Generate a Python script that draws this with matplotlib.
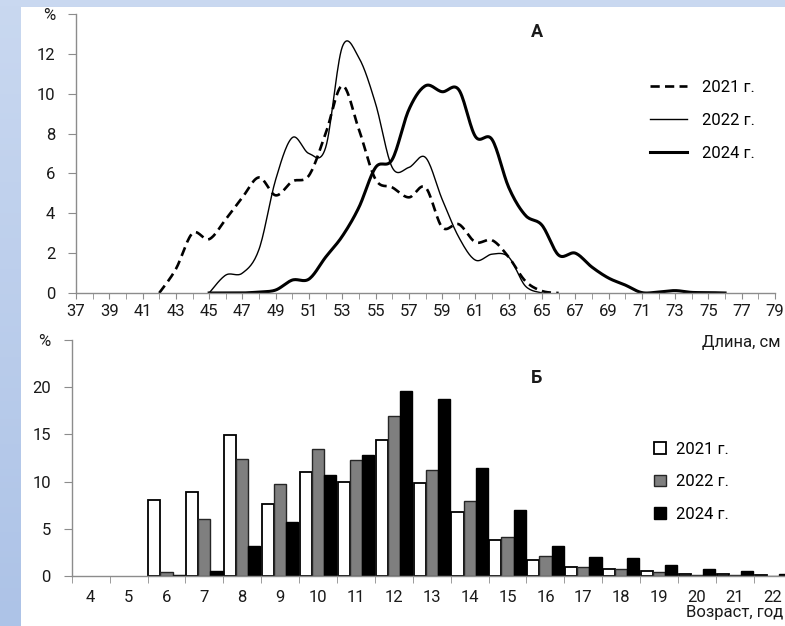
import matplotlib.pyplot as plt
import numpy as np
from matplotlib.patches import Rectangle

plt.rcParams['font.family'] = ['Roboto', 'DejaVu Sans']

# А: размерный состав (длина, см -> %)
len_2021 = np.arange(42, 67)
pct_len_2021 = [0, 1.2, 3.0, 2.7, 3.7, 4.8, 5.8, 4.9, 5.6, 5.9, 8.0, 10.4, 8.2,
                5.7, 5.3, 4.8, 5.3, 3.3, 3.45, 2.55, 2.65, 1.8, 0.6, 0.1, 0]
len_2022 = np.arange(45, 66)
pct_len_2022 = [0, 0.9, 1.0, 2.2, 5.7, 7.8, 7.0, 7.3, 12.35, 11.8, 9.5, 6.3,
                6.3, 6.8, 4.7, 2.8, 1.65, 1.95, 1.8, 0.35, 0]
len_2024 = np.arange(45, 77)
pct_len_2024 = [0, 0, 0, 0.05, 0.15, 0.65, 0.7, 1.8, 2.85, 4.3, 6.3, 6.7, 9.2,
                10.4, 10.1, 10.2, 7.85, 7.7, 5.3, 3.9, 3.4, 1.9, 2.0, 1.3, 0.75,
                0.4, 0.02, 0.05, 0.12, 0.03, 0.02, 0]

# Б: возрастной состав (возраст, год -> %)
ages = np.arange(4, 23)
pct_age_2021 = [0, 0, 8.1, 8.9, 14.9, 7.6, 11.0, 10.0, 14.4, 9.9, 6.8, 3.8,
                1.7, 0.95, 0.77, 0.53, 0.2, 0.2, 0.07]
pct_age_2022 = [0, 0, 0.46, 6.0, 12.4, 9.7, 13.5, 12.3, 16.9, 11.2, 7.9, 4.1,
                2.1, 1.0, 0.7, 0.46, 0.1, 0.1, 0.05]
pct_age_2024 = [0, 0, 0.07, 0.56, 3.2, 5.7, 10.7, 12.8, 19.6, 18.7, 11.4, 7.0,
                3.2, 2.0, 1.9, 1.2, 0.7, 0.56, 0.2]

W, H = 785, 626
axis_gray = '#8c8c8c'
txt = '#1a1a1a'


def smooth(x, y, n=16):
    # сглаживание как в Excel (кривые Безье через точки)
    x = np.asarray(x, float)
    y = np.asarray(y, float)
    px = np.concatenate([[x[0]], x, [x[-1]]])
    py = np.concatenate([[y[0]], y, [y[-1]]])
    t = np.linspace(0, 1, n, endpoint=False)
    xs, ys = [], []
    for i in range(len(x) - 1):
        p0x, p1x, p2x, p3x = px[i:i + 4]
        p0y, p1y, p2y, p3y = py[i:i + 4]
        c1x, c1y = p1x + (p2x - p0x) / 6, p1y + (p2y - p0y) / 6
        c2x, c2y = p2x - (p3x - p1x) / 6, p2y - (p3y - p1y) / 6
        a, b, c, d = (1 - t) ** 3, 3 * (1 - t) ** 2 * t, 3 * (1 - t) * t ** 2, t ** 3
        xs.append(a * p1x + b * c1x + c * c2x + d * p2x)
        ys.append(a * p1y + b * c1y + c * c2y + d * p2y)
    xs.append([x[-1]])
    ys.append([y[-1]])
    return np.concatenate(xs), np.concatenate(ys)


def nz(v):
    # нулевые столбики не рисуем
    v = np.asarray(v, float)
    return np.where(v > 0, v, np.nan)


fig = plt.figure(figsize=(W / 100, H / 100), dpi=100)

# фон слайда
bg = fig.add_axes([0, 0, 1, 1], zorder=-10)
grad = np.linspace(0, 1, 100).reshape(-1, 1)
bg.imshow(grad, aspect='auto', extent=[0, 1, 0, 1],
          cmap=plt.matplotlib.colors.LinearSegmentedColormap.from_list(
              'bg', ['#c9d8f0', '#adc3e7']), origin='upper')
bg.add_patch(Rectangle((21 / W, 0), 1, 1 - 7 / H, facecolor='white', edgecolor='none'))
bg.set_xlim(0, 1)
bg.set_ylim(0, 1)
bg.axis('off')


def style_axes(ax):
    for s in ['top', 'right']:
        ax.spines[s].set_visible(False)
    for s in ['left', 'bottom']:
        ax.spines[s].set_color(axis_gray)
        ax.spines[s].set_linewidth(1)
    ax.set_facecolor('none')
    ax.tick_params(which='both', direction='out', color=axis_gray, labelcolor=txt,
                   labelsize=12)


# ---- А ----
ax1 = fig.add_axes([76 / W, 333 / H, 699 / W, 279 / H])
style_axes(ax1)
x, y = smooth(len_2021, pct_len_2021)
ax1.plot(x, y, color='black', lw=1.9, dashes=(3.5, 2), dash_capstyle='butt', label='2021 г.')
x, y = smooth(len_2022, pct_len_2022)
ax1.plot(x, y, color='black', lw=1.0, label='2022 г.')
x, y = smooth(len_2024, pct_len_2024)
ax1.plot(x, y, color='black', lw=2.2, label='2024 г.')
ax1.set_xlim(37, 79)
ax1.set_ylim(0, 14)
ax1.set_xticks(np.arange(37, 80, 2))
ax1.set_xticks(np.arange(37, 80, 1), minor=True)
ax1.set_yticks(np.arange(0, 15, 2))
ax1.set_yticklabels([str(v) for v in range(0, 13, 2)] + ['%'])
ax1.tick_params(axis='x', which='both', length=4, pad=4)
ax1.tick_params(axis='y', length=6, pad=9)
ax1.legend(loc='upper left', bbox_to_anchor=(650 / W, 1 - 80 / H),
           bbox_transform=fig.transFigure, frameon=False, fontsize=12,
           handlelength=2.2, handletextpad=0.9, labelspacing=1.07,
           borderpad=0, borderaxespad=0)
fig.text(537 / W, 1 - 32 / H, 'А', ha='center', va='center', fontsize=13,
         fontweight='bold', color=txt)
fig.text(781 / W, 1 - 342 / H, 'Длина, см', ha='right', va='center', fontsize=12, color=txt)

# ---- Б ----
ax2 = fig.add_axes([71.7 / W, 50 / H, 720.1 / W, 236 / H])
style_axes(ax2)
bw = 0.32
ax2.bar(ages - bw, nz(pct_age_2021), width=bw, color='white', edgecolor='black', lw=1.3, label='2021 г.')
ax2.bar(ages, nz(pct_age_2022), width=bw, color='#7f7f7f', edgecolor='#262626', lw=1.0, label='2022 г.')
ax2.bar(ages + bw, nz(pct_age_2024), width=bw, color='black', edgecolor='black', lw=1.0, label='2024 г.')
ax2.set_xlim(3.5, 22.5)
ax2.set_ylim(0, 25)
ax2.set_xticks(ages)
ax2.set_xticks(np.arange(3.5, 23, 1), minor=True)
ax2.set_yticks(np.arange(0, 26, 5))
ax2.set_yticklabels([str(v) for v in range(0, 21, 5)] + ['%'])
ax2.tick_params(axis='x', which='major', length=0, pad=10)
ax2.tick_params(axis='x', which='minor', length=5)
ax2.tick_params(axis='y', length=6, pad=9)
ax2.legend(loc='upper left', bbox_to_anchor=(654 / W, 1 - 442 / H),
           bbox_transform=fig.transFigure, frameon=False, fontsize=12,
           handlelength=0.72, handleheight=0.72, handletextpad=0.6,
           labelspacing=1.04, borderpad=0, borderaxespad=0)
fig.text(537 / W, 1 - 378 / H, 'Б', ha='center', va='center', fontsize=13,
         fontweight='bold', color=txt)
fig.text(783 / W, 1 - 613 / H, 'Возраст, год', ha='right', va='center', fontsize=12, color=txt)

plt.savefig('out.png', dpi=100)
